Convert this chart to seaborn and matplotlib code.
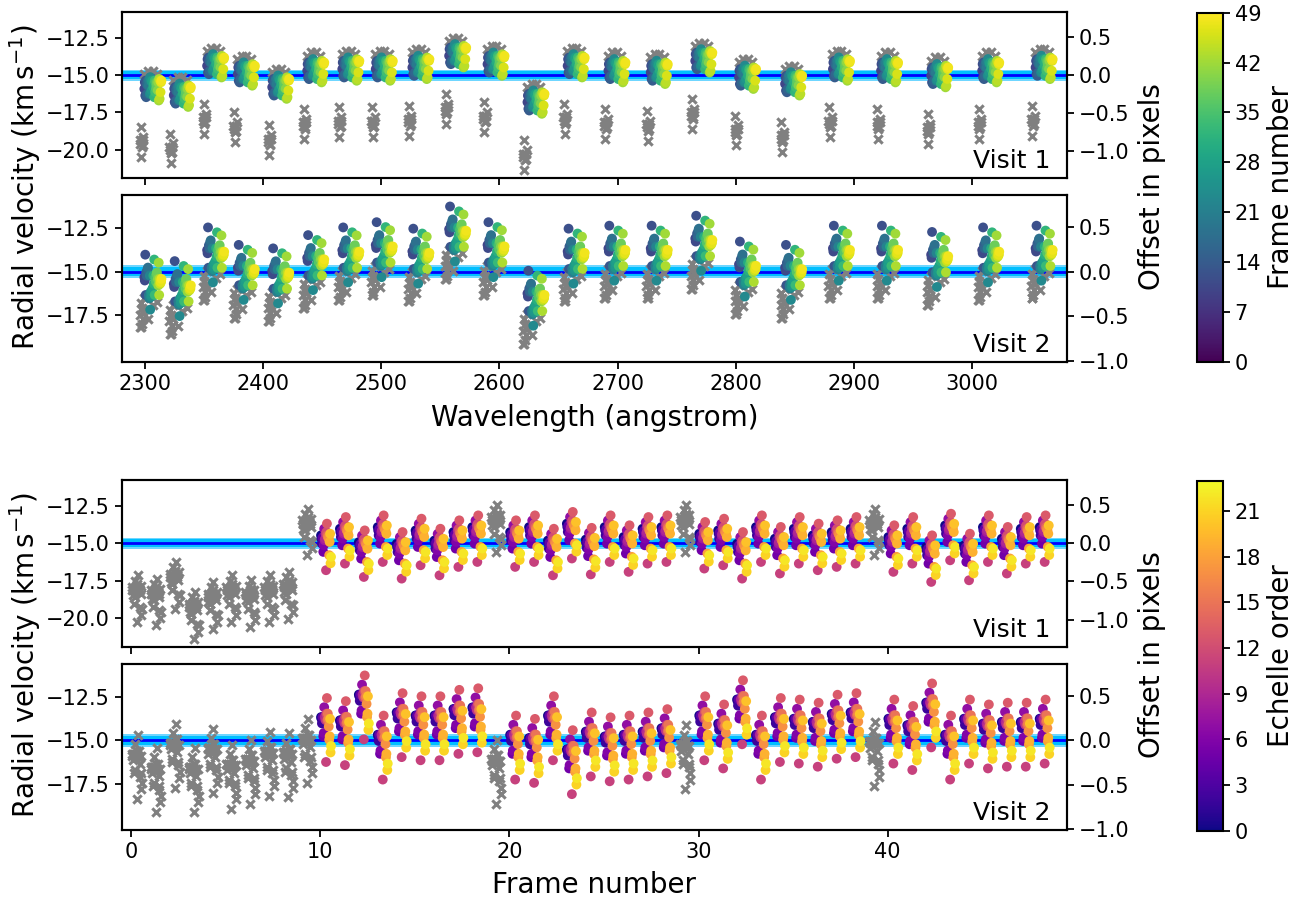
import matplotlib
matplotlib.use("Agg")
import matplotlib as mpl
import matplotlib.pyplot as plt
import seaborn as sns
import numpy as np
import pandas as pd

sns.set_style("ticks")
plt.rcParams["font.family"] = ["DejaVu Sans"]
plt.rcParams.update({
    "axes.edgecolor": "black", "axes.linewidth": 1.5,
    "xtick.color": "black", "ytick.color": "black",
    "text.color": "black", "axes.labelcolor": "black",
    "xtick.major.width": 1.3, "ytick.major.width": 1.3,
    "xtick.major.size": 5, "ytick.major.size": 5,
})

# centre wavelength of each echelle order (angstrom), shortest first = order 22 ... order 0
wave_centres = [2304.8, 2329.7, 2357.9, 2383.9, 2413.0, 2442.6, 2472.3, 2500.6,
                2531.6, 2562.7, 2595.2, 2629.0, 2663.0, 2697.5, 2733.3, 2771.0,
                2808.0, 2847.0, 2887.5, 2928.2, 2970.6, 3013.8, 3059.0]

# centre of each order's cloud, km/s relative to -15 (same wavelength order as above)
order_off_v1 = [-0.77, -1.20, 0.77, 0.22, -0.66, 0.44, 0.55, 0.55, 0.66, 1.44, 0.88, -1.66,
                0.77, 0.44, 0.33, 1.10, 0.00, -0.44, 0.55, 0.44, 0.11, 0.44, 0.66]
order_off_v2 = [-0.56, -0.93, 1.00, 0.00, -0.20, 0.56, 1.00, 1.30, 0.93, 2.20, 1.30, -1.48,
                0.93, 1.10, 1.10, 1.67, 0.19, 0.00, 1.10, 1.10, 0.74, 1.00, 1.10]

# centre of each frame's cloud, km/s relative to -15 (frames 0..48)
frame_off_v1 = [-3.07, -3.29, -2.18, -4.18, -3.51, -3.07, -3.40, -3.07, -2.84, 1.38,
                0.38, 0.82, -0.07, 0.93, -0.18, 0.71, 0.04, 0.60, 0.93, 1.60,
                0.60, 0.93, 0.04, 1.16, 0.10, 0.93, 0.27, 0.82, 0.93, 1.60,
                0.49, 0.71, -0.18, 0.93, 0.16, 0.82, 0.38, 0.60, 0.82, 1.38,
                0.27, 0.82, -0.40, 1.04, -0.29, 0.93, 0.16, 0.82, 0.93]
frame_off_v2 = [-0.93, -1.67, -0.28, -1.67, -0.56, -1.48, -1.20, -0.74, -0.83, 0.00,
                1.20, 1.02, 2.50, 0.19, 1.48, 1.30, 1.30, 1.67, 1.76, -1.20,
                0.19, 0.00, 1.30, -0.65, 0.37, 0.09, 0.19, 0.37, 0.56, -0.37,
                1.30, 0.83, 2.22, 0.19, 1.20, 1.11, 0.93, 1.39, 1.48, -0.19,
                1.11, 0.74, 2.04, 0.19, 1.11, 0.83, 0.93, 0.93, 1.11]

bad_frames = list(range(10)) + [19, 29, 39]
n_orders = len(wave_centres)
n_frames = len(frame_off_v1)

rows = []
for visit, o_off, f_off in ((1, order_off_v1, frame_off_v1), (2, order_off_v2, frame_off_v2)):
    good_mean = np.mean([f_off[f] for f in range(n_frames) if f not in bad_frames])
    for i, wl in enumerate(wave_centres):
        order = n_orders - 1 - i
        for f in range(n_frames):
            rows.append({
                "visit": visit, "order": order, "frame": f,
                "wave": wl + (f - 24) * 0.38,
                "fx": f + 0.04 + order * 0.024,
                "rv": -15 + o_off[i] + f_off[f] - good_mean,
                "bad": f in bad_frames,
            })
df = pd.DataFrame(rows).sort_values(["visit", "frame", "order"])

ylims = {1: (-21.9, -10.8), 2: (-20.15, -10.6)}
yticks = {1: [-20, -17.5, -15, -12.5], 2: [-17.5, -15, -12.5]}
k_pix = 5.1  # km/s per pixel of offset

W, H = 1302, 900
fig = plt.figure(figsize=(W / 100, H / 100), dpi=100)


def panel(top_px, bottom_px, visit, xcol, hue, cmap, vmax, xlim, xticks, labels):
    ax = fig.add_axes([121.7 / W, 1 - bottom_px / H, 945.6 / W, (bottom_px - top_px) / H])
    d = df[df.visit == visit]
    ax.axhspan(-15.37, -14.63, color="#6fd6ff", lw=0, zorder=1)
    ax.axhspan(-15.25, -14.75, color="deepskyblue", lw=0, zorder=1)
    ax.axhline(-15, color="blue", lw=2, zorder=1.5)
    sns.scatterplot(data=d[d.bad], x=xcol, y="rv", color="grey", marker="x",
                    s=36, linewidth=2.2, ax=ax, zorder=2)
    sns.scatterplot(data=d[~d.bad], x=xcol, y="rv", hue=hue, palette=cmap,
                    hue_norm=(0, vmax), s=50, linewidth=0, legend=False, ax=ax, zorder=3)
    ax.set_xlim(*xlim)
    ax.set_xticks(xticks)
    ax.set_ylim(*ylims[visit])
    ax.set_yticks(yticks[visit])
    ax.set_xlabel("")
    ax.set_ylabel("")
    ax.tick_params(labelsize=15, labelbottom=labels)
    ax.text(0.982, 0.03, f"Visit {visit}", transform=ax.transAxes,
            ha="right", va="bottom", fontsize=18)
    ax2 = ax.twinx()
    lo, hi = ylims[visit]
    ax2.set_ylim((lo + 15) / k_pix, (hi + 15) / k_pix)
    ax2.set_yticks([-1.0, -0.5, 0.0, 0.5])
    ax2.tick_params(labelsize=15)
    return ax


# wavelength view, coloured by frame
panel(12.3, 178.3, 1, "wave", "frame", "viridis", 49, (2280.3, 3080.5), range(2300, 3001, 100), False)
panel(195, 361.7, 2, "wave", "frame", "viridis", 49, (2280.3, 3080.5), range(2300, 3001, 100), True)
# frame view, coloured by echelle order
panel(480, 646.7, 1, "fx", "order", "plasma", 23, (-0.5, 49.5), range(0, 41, 10), False)
panel(664, 830, 2, "fx", "order", "plasma", 23, (-0.5, 49.5), range(0, 41, 10), True)

for top_px, bot_px, cmap, vmax, ticks, lab in ((12.7, 361.7, "viridis", 49, range(0, 50, 7), "Frame number"),
                                                (480.7, 830.7, "plasma", 23, range(0, 22, 3), "Echelle order")):
    cax = fig.add_axes([1196.7 / W, 1 - bot_px / H, 26 / W, (bot_px - top_px) / H])
    sm = mpl.cm.ScalarMappable(norm=mpl.colors.Normalize(0, vmax), cmap=cmap)
    cb = fig.colorbar(sm, cax=cax, ticks=list(ticks))
    cb.ax.tick_params(labelsize=15)
    cb.set_label(lab, fontsize=20)

for yc in (187, 655):
    fig.text(25 / W, 1 - yc / H, r"Radial velocity (km$\,$s$^{-1}$)", rotation=90,
             ha="center", va="center", fontsize=20)
    fig.text(1152 / W, 1 - yc / H, "Offset in pixels", rotation=90,
             ha="center", va="center", fontsize=20)
fig.text(594.5 / W, 1 - 418 / H, "Wavelength (angstrom)", ha="center", va="center", fontsize=20)
fig.text(594.5 / W, 1 - 885 / H, "Frame number", ha="center", va="center", fontsize=20)

fig.savefig("out.png", dpi=100)
